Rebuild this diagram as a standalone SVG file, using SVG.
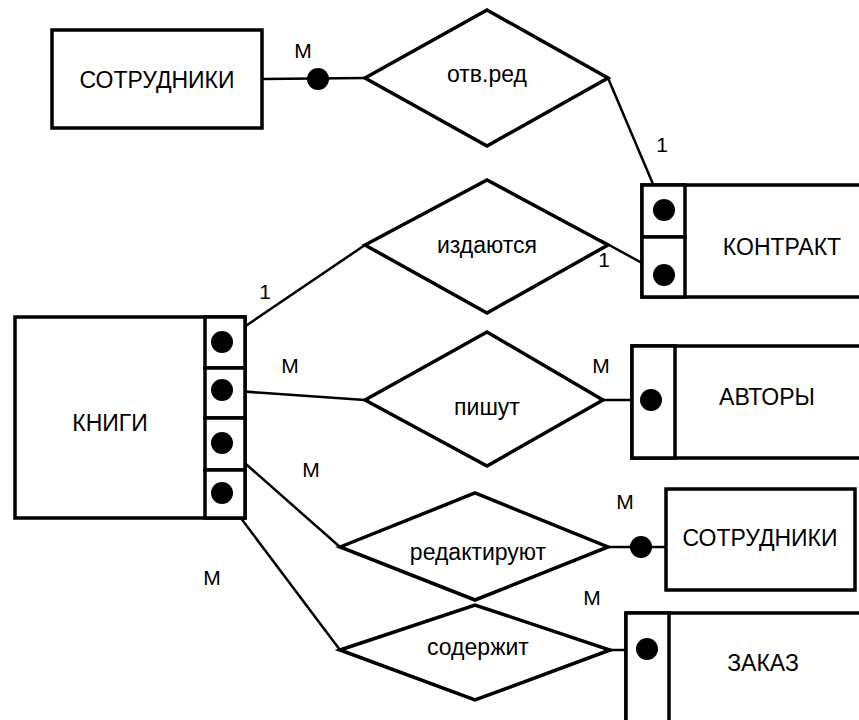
<svg xmlns="http://www.w3.org/2000/svg" width="859" height="720" viewBox="0 0 859 720">
<style>
.box{fill:#fff;stroke:#000;stroke-width:3.5}
.dia{fill:#fff;stroke:#000;stroke-width:3.5;stroke-linejoin:miter}
.ln{fill:none;stroke:#000;stroke-width:2.5}
.dot{fill:#000}
text{font-family:"Liberation Sans",Arial,sans-serif;font-size:23px;fill:#000}
.m{font-size:21px}
.c{text-anchor:middle}
</style>
<rect width="859" height="720" fill="#fff"/>
<g id="connectors">
<line class="ln" x1="262" y1="79" x2="365" y2="78"/>
<circle class="dot" cx="318" cy="79" r="11"/>
<line class="ln" x1="608" y1="78" x2="664" y2="210"/>
<line class="ln" x1="600" y1="240" x2="664" y2="275"/>
<line class="ln" x1="365" y1="245" x2="222" y2="342"/>
<line class="ln" x1="222" y1="390" x2="365" y2="400"/>
<line class="ln" x1="603" y1="400" x2="651" y2="400"/>
<line class="ln" x1="222" y1="443" x2="340" y2="547"/>
<line class="ln" x1="608" y1="547" x2="666" y2="547"/>
<circle class="dot" cx="641" cy="547" r="11"/>
<line class="ln" x1="222" y1="493" x2="340" y2="650"/>
<line class="ln" x1="610" y1="650" x2="647" y2="650"/>
<text x="303" y="58" class="c m">M</text>
<text x="662" y="152" class="c m">1</text>
<text x="604" y="267" class="c m">1</text>
<text x="265" y="299" class="c m">1</text>
<text x="290" y="373" class="c m">M</text>
<text x="601" y="373" class="c m">M</text>
<text x="311" y="477" class="c m">M</text>
<text x="625" y="509" class="c m">M</text>
<text x="212" y="585" class="c m">M</text>
<text x="592" y="605" class="c m">M</text>
</g>
<g id="sotrudniki1">
<rect class="box" x="52" y="30" width="210" height="98"/>
<text x="157" y="88" class="c">СОТРУДНИКИ</text>
</g>
<g id="otv-red">
<polygon class="dia" points="365,78 487,10 608,78 487,146"/>
<text x="487" y="82" class="c">отв.ред</text>
</g>
<g id="kontrakt">
<rect class="box" x="642" y="185" width="220" height="112"/>
<rect class="box" x="642" y="185" width="43" height="52"/>
<rect class="box" x="642" y="237" width="43" height="60"/>
<circle class="dot" cx="664" cy="210" r="11"/>
<circle class="dot" cx="664" cy="275" r="11"/>
<text x="782" y="255" class="c">КОНТРАКТ</text>
</g>
<g id="izdayutsya">
<polygon class="dia" points="365,245 487,180 608,245 487,313"/>
<text x="487" y="253" class="c">издаются</text>
</g>
<g id="knigi">
<rect class="box" x="15" y="317" width="230" height="201"/>
<rect class="box" x="205" y="317" width="40" height="51"/>
<rect class="box" x="205" y="368" width="40" height="50"/>
<rect class="box" x="205" y="418" width="40" height="52"/>
<rect class="box" x="205" y="470" width="40" height="48"/>
<circle class="dot" cx="222" cy="342" r="11"/>
<circle class="dot" cx="222" cy="390" r="11"/>
<circle class="dot" cx="222" cy="443" r="11"/>
<circle class="dot" cx="222" cy="493" r="11"/>
<text x="110" y="431" class="c">КНИГИ</text>
</g>
<g id="pishut">
<polygon class="dia" points="365,400 487,332 603,400 487,466"/>
<text x="487" y="415" class="c">пишут</text>
</g>
<g id="avtory">
<rect class="box" x="632" y="346" width="230" height="112"/>
<rect class="box" x="632" y="346" width="43" height="112"/>
<circle class="dot" cx="651" cy="400" r="11"/>
<text x="767" y="405" class="c">АВТОРЫ</text>
</g>
<g id="redaktiruyut">
<polygon class="dia" points="340,547 475,493 608,547 475,600"/>
<text x="478" y="560" class="c">редактируют</text>
</g>
<g id="sotrudniki2">
<rect class="box" x="666" y="489" width="189" height="101"/>
<text x="760" y="546" class="c">СОТРУДНИКИ</text>
</g>
<g id="soderzhit">
<polygon class="dia" points="340,650 475,605 610,650 475,700"/>
<text x="478" y="655" class="c">содержит</text>
</g>
<g id="zakaz">
<rect class="box" x="626" y="613" width="235" height="110"/>
<rect class="box" x="626" y="613" width="43" height="110"/>
<circle class="dot" cx="647" cy="649" r="11"/>
<text x="763" y="671" class="c">ЗАКАЗ</text>
</g>
</svg>
